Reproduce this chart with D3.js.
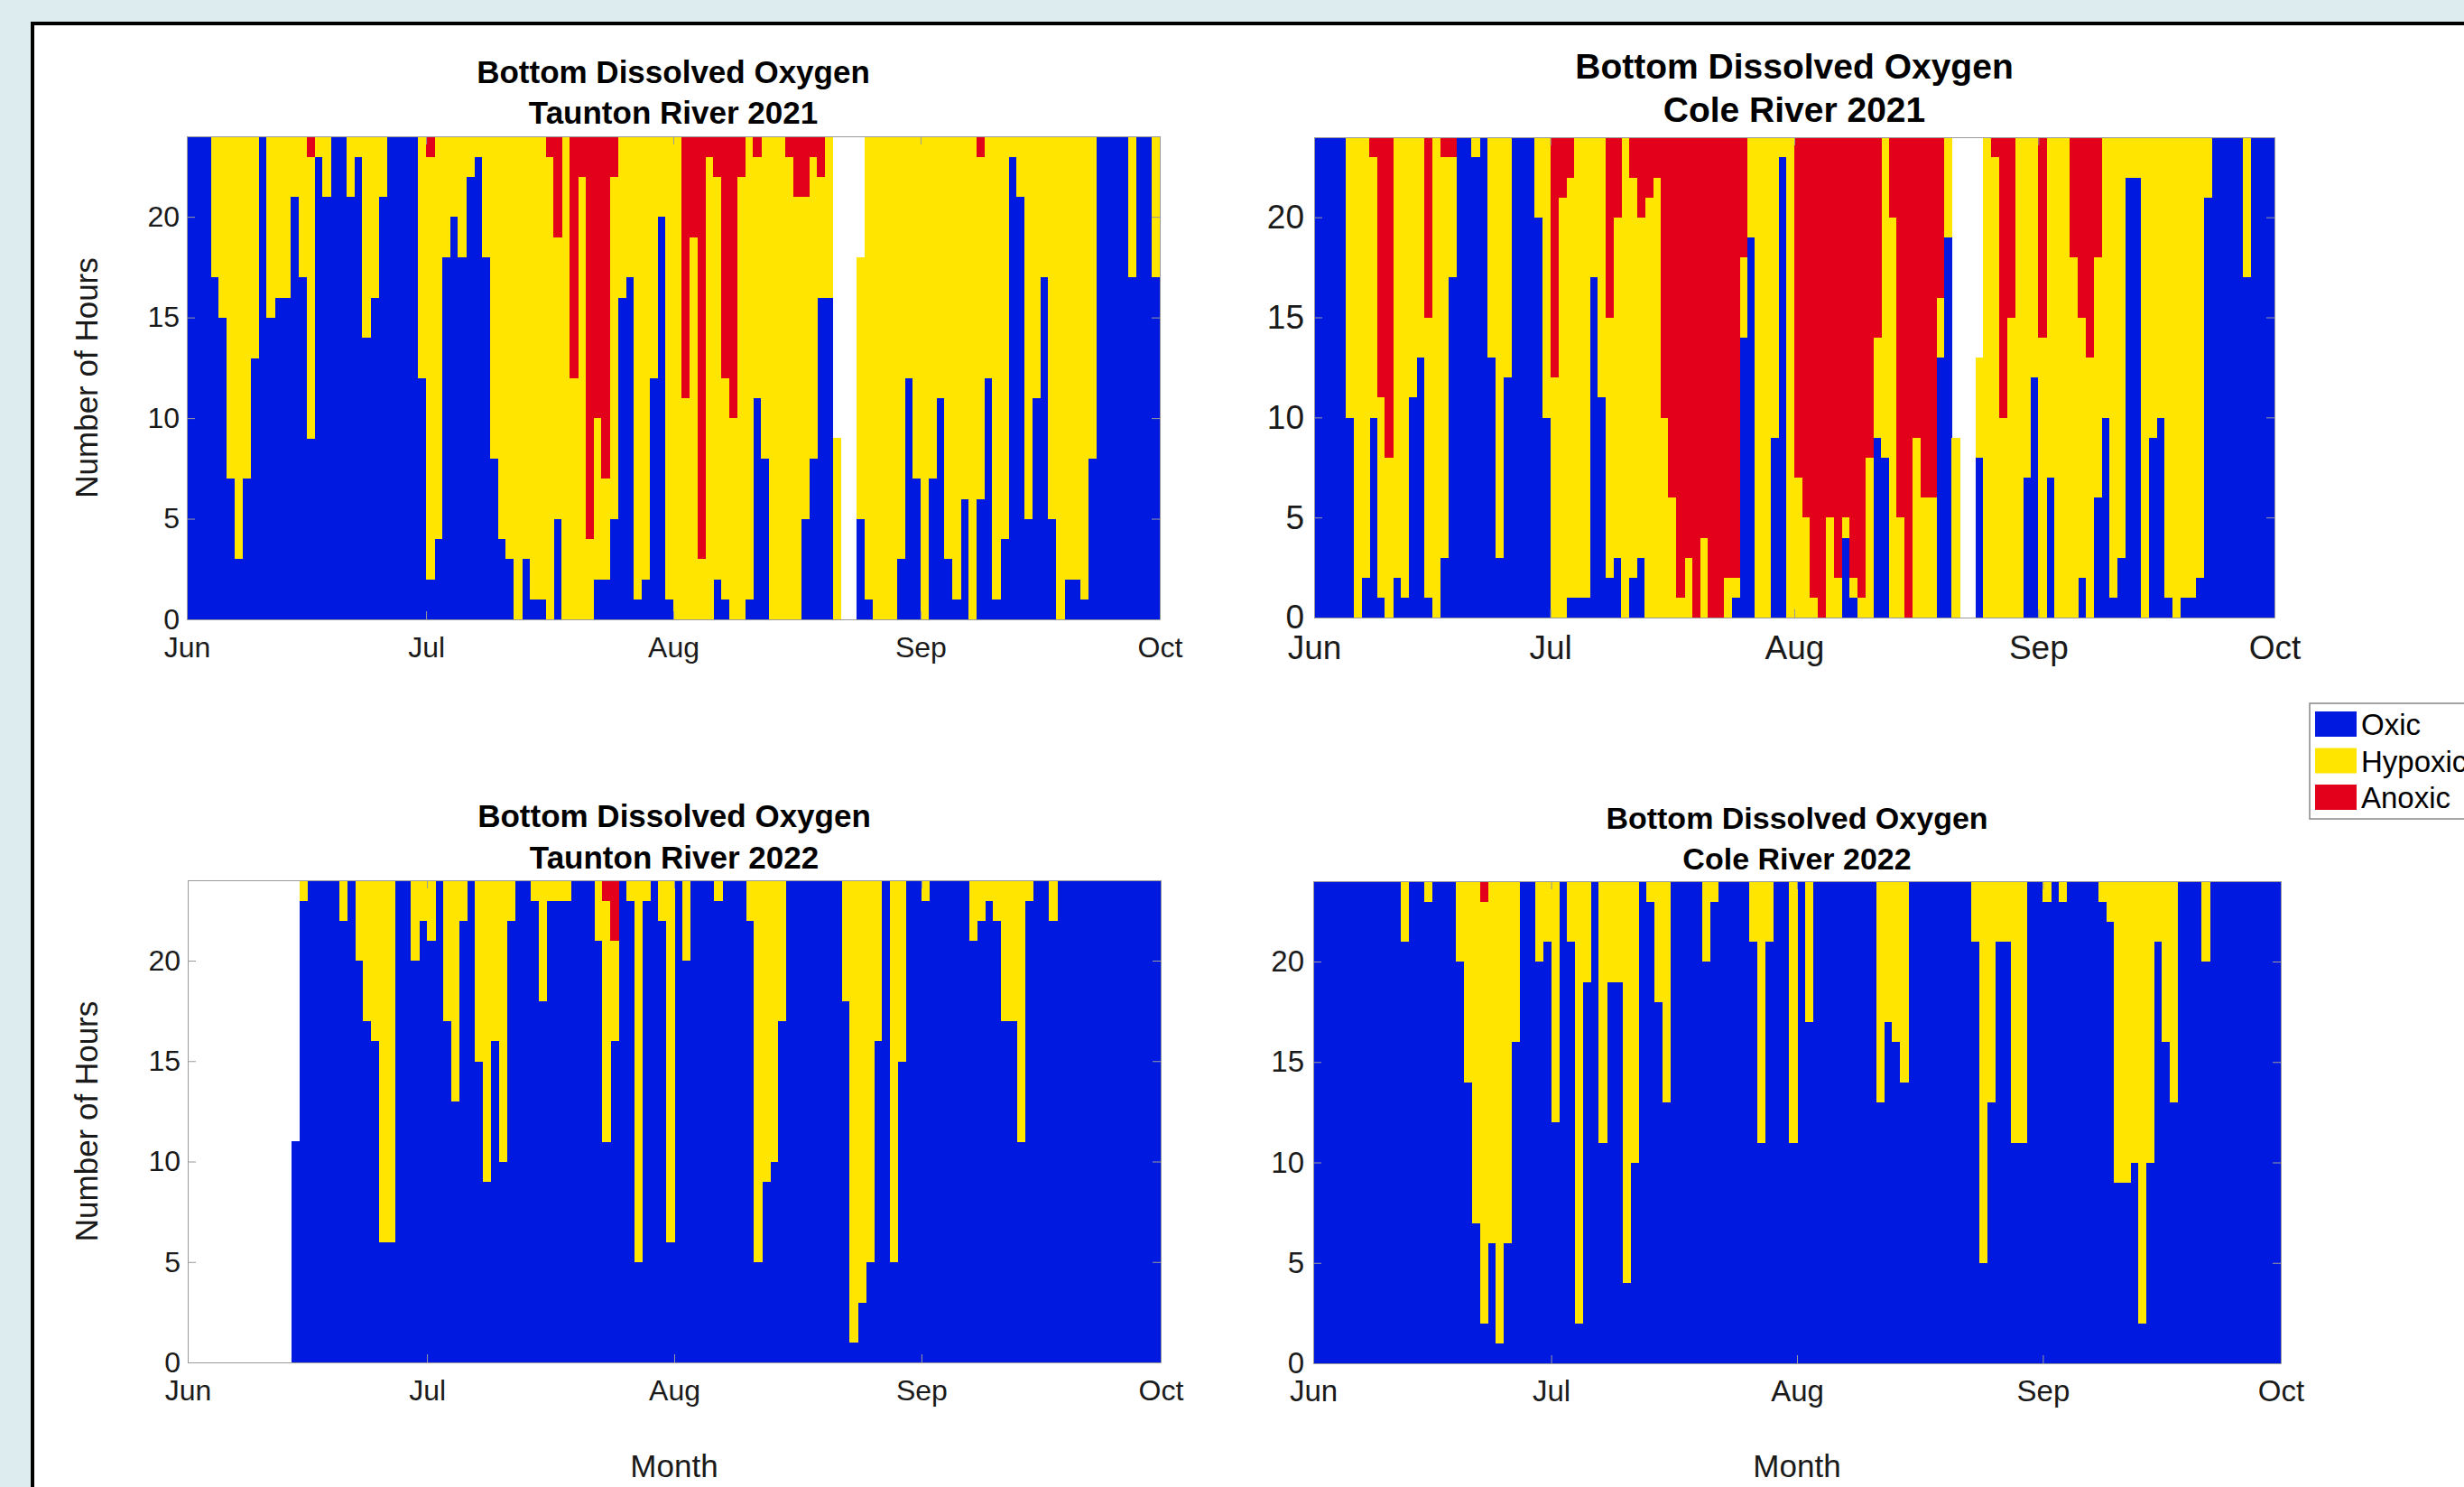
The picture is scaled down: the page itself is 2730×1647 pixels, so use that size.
<!DOCTYPE html>
<html lang="en">
<head>
<meta charset="utf-8">
<title>Bottom Dissolved Oxygen</title>
<script src="https://d3js.org/d3.v7.min.js"></script>
<style>
  body { margin: 0; background: #dcecef; overflow: hidden; }
  svg { display: block; font-family: "Liberation Sans", Arial, Helvetica, sans-serif; }
  .axis path, .axis line { stroke: #9a9a9a; }
  .axis text { fill: #1a1a1a; }
</style>
</head>
<body>
<svg id="chart" width="2730" height="1647"></svg>
<script>
const categories = ['Oxic', 'Hypoxic', 'Anoxic']
const colors = ['#0019e0', '#ffe500', '#e3001b']
const monthLabels = ['Jun', 'Jul', 'Aug', 'Sep', 'Oct']
const hourTicks = [0, 5, 10, 15, 20]

// hours per day, Jun 1 .. Sep 30 (122 days); days with a total under 24 had missing hours
const tauntonOxic2021 = [
  24,24,24,17,15,7,3,7,13,24, 15,16,16,21,17,9,23,21,24,24, 21,23,14,16,21,24,24,24,24,12,
  2,4,18,20,18,22,23,18,8,4, 3,0,3,1,1,0,5,0,0,0, 0,2,2,5,16,17,1,2,12,20,
  1,0,0,0,0,0,2,1,0,0, 1,11,8,0,0,0,0,5,8,16, 16,0,0,0,5,1,0,0,0,3,
  12,7,0,7,11,3,1,6,0,6, 12,1,4,23,21,5,11,17,5,0, 2,2,1,8,24,24,24,24,17,24,24,17]
const tauntonHypoxic2021 = [
  0,0,0,7,9,17,21,17,11,0, 9,8,8,3,7,14,1,3,0,0, 3,1,10,8,3,0,0,0,0,12,
  21,20,6,4,6,2,1,6,16,20, 21,24,21,23,23,23,14,24,12,22, 4,8,5,17,8,7,23,22,12,4,
  23,24,11,19,3,23,20,11,10,22, 23,12,16,24,24,23,21,16,15,6, 8,9,0,0,13,23,24,24,24,21,
  12,17,24,17,13,21,23,18,24,17, 12,23,20,1,3,19,13,7,19,24, 22,22,23,16,0,0,0,0,7,0,0,7]
const tauntonAnoxic2021 = [
  0,0,0,0,0,0,0,0,0,0, 0,0,0,0,0,1,0,0,0,0, 0,0,0,0,0,0,0,0,0,0,
  1,0,0,0,0,0,0,0,0,0, 0,0,0,0,0,1,5,0,12,2, 20,14,17,2,0,0,0,0,0,0,
  0,0,13,5,21,1,2,12,14,2, 0,1,0,0,0,1,3,3,1,2, 0,0,0,0,0,0,0,0,0,0,
  0,0,0,0,0,0,0,0,0,1, 0,0,0,0,0,0,0,0,0,0, 0,0,0,0,0,0,0,0,0,0,0,0]

const coleOxic2021 = [
  24,24,24,24,10,0,2,10,1,0, 2,1,11,13,1,0,3,17,24,24, 23,24,13,3,12,24,24,24,20,10,
  0,0,1,1,1,17,11,2,3,0, 2,3,0,0,0,0,0,0,0,0, 0,0,0,1,14,19,0,0,9,23,
  0,0,0,0,0,0,0,4,1,0, 0,9,8,0,0,0,0,0,0,13, 19,0,0,0,8,0,0,0,0,0,
  7,12,0,7,0,0,0,2,0,6, 10,1,3,22,22,0,9,10,1,0, 1,1,2,21,24,24,24,24,17,24,24,24]
const coleHypoxic2021 = [
  0,0,0,0,14,24,22,13,10,8, 22,23,13,11,14,24,20,6,0,0, 1,0,11,21,12,0,0,0,4,14,
  12,21,21,23,23,7,13,13,17,24, 20,17,21,22,10,6,1,3,0,4, 0,0,2,1,4,5,24,24,15,1,
  24,7,5,1,0,5,2,1,1,1, 8,5,16,20,5,0,9,6,6,3, 5,9,0,0,5,24,23,10,15,24,
  17,12,14,17,24,24,18,13,13,12, 14,23,21,2,2,24,15,14,23,24, 23,23,22,3,0,0,0,0,7,0,0,0]
const coleAnoxic2021 = [
  0,0,0,0,0,0,0,1,13,16, 0,0,0,0,9,0,1,1,0,0, 0,0,0,0,0,0,0,0,0,0,
  12,3,2,0,0,0,0,9,4,0, 2,4,3,2,14,18,23,21,24,20, 24,24,22,22,6,0,0,0,0,0,
  0,17,19,23,24,19,22,19,22,23, 16,10,0,4,19,24,15,18,18,8, 0,0,0,0,0,0,1,14,9,0,
  0,0,10,0,0,0,6,9,11,6, 0,0,0,0,0,0,0,0,0,0, 0,0,0,0,0,0,0,0,0,0,0,0]

const tauntonOxic2022 = [
  0,0,0,0,0,0,0,0,0,0, 0,0,0,11,23,24,24,24,24,22, 24,20,17,16,6,6,24,24,20,22,
  21,24,17,13,22,24,15,9,16,10, 22,24,24,23,18,23,23,23,24,24, 24,21,11,16,24,23,5,23,24,22,
  6,24,20,24,24,24,23,24,24,24, 22,5,9,10,17,24,24,24,24,24, 24,24,18,1,3,5,16,24,5,15,
  24,24,23,24,24,24,24,24,21,22, 23,22,17,17,11,23,24,24,22,24, 24,24,24,24,24,24,24,24,24,24,24,24]
const tauntonHypoxic2022 = [
  0,0,0,0,0,0,0,0,0,0, 0,0,0,0,1,0,0,0,0,2, 0,4,7,8,18,18,0,0,4,2,
  3,0,7,11,2,0,9,15,8,14, 2,0,0,1,6,1,1,1,0,0, 0,3,12,5,0,1,19,1,0,2,
  18,0,4,0,0,0,1,0,0,0, 2,19,15,14,7,0,0,0,0,0, 0,0,6,23,21,19,8,0,19,9,
  0,0,1,0,0,0,0,0,3,2, 1,2,7,7,13,1,0,0,2,0, 0,0,0,0,0,0,0,0,0,0,0,0]
const tauntonAnoxic2022 = [
  0,0,0,0,0,0,0,0,0,0, 0,0,0,0,0,0,0,0,0,0, 0,0,0,0,0,0,0,0,0,0,
  0,0,0,0,0,0,0,0,0,0, 0,0,0,0,0,0,0,0,0,0, 0,0,1,3,0,0,0,0,0,0,
  0,0,0,0,0,0,0,0,0,0, 0,0,0,0,0,0,0,0,0,0, 0,0,0,0,0,0,0,0,0,0,
  0,0,0,0,0,0,0,0,0,0, 0,0,0,0,0,0,0,0,0,0, 0,0,0,0,0,0,0,0,0,0,0,0]

const coleOxic2022 = [
  24,24,24,24,24,24,24,24,24,24, 24,21,24,24,23,24,24,24,20,14, 7,2,6,1,6,16,24,24,20,21,
  12,24,21,2,19,24,11,19,19,4, 10,24,23,18,13,24,24,24,24,20, 23,24,24,24,24,21,11,21,24,24,
  11,24,17,24,24,24,24,24,24,24, 24,13,17,16,14,24,24,24,24,24, 24,24,24,21,5,13,21,21,11,11,
  24,24,23,24,23,24,24,24,24,23, 22,9,9,10,2,10,21,16,13,24, 24,24,20,24,24,24,24,24,24,24,24,24]
const coleHypoxic2022 = [
  0,0,0,0,0,0,0,0,0,0, 0,3,0,0,1,0,0,0,4,10, 17,21,18,23,18,8,0,0,4,3,
  12,0,3,22,5,0,13,5,5,20, 14,0,1,6,11,0,0,0,0,4, 1,0,0,0,0,3,13,3,0,0,
  13,0,7,0,0,0,0,0,0,0, 0,11,7,8,10,0,0,0,0,0, 0,0,0,3,19,11,3,3,13,13,
  0,0,1,0,1,0,0,0,0,1, 2,15,15,14,22,14,3,8,11,0, 0,0,4,0,0,0,0,0,0,0,0,0]
const coleAnoxic2022 = [
  0,0,0,0,0,0,0,0,0,0, 0,0,0,0,0,0,0,0,0,0, 0,1,0,0,0,0,0,0,0,0,
  0,0,0,0,0,0,0,0,0,0, 0,0,0,0,0,0,0,0,0,0, 0,0,0,0,0,0,0,0,0,0,
  0,0,0,0,0,0,0,0,0,0, 0,0,0,0,0,0,0,0,0,0, 0,0,0,0,0,0,0,0,0,0,
  0,0,0,0,0,0,0,0,0,0, 0,0,0,0,0,0,0,0,0,0, 0,0,0,0,0,0,0,0,0,0,0,0]

// layout of the four axes (the source is a collage, so each panel has its own sizes)
const panels = [
  { title: 'Taunton River 2021', year: 2021, series: [tauntonOxic2021, tauntonHypoxic2021, tauntonAnoxic2021],
    box: [207, 151, 1285, 686], titleSize: 35, titleY: [92, 137], tickSize: 32, xPad: 19, yPad: 8, ylabel: true },
  { title: 'Cole River 2021', year: 2021, series: [coleOxic2021, coleHypoxic2021, coleAnoxic2021],
    box: [1456, 152, 2520, 684], titleSize: 39, titleY: [87, 135], tickSize: 37, xPad: 20, yPad: 11 },
  { title: 'Taunton River 2022', year: 2022, series: [tauntonOxic2022, tauntonHypoxic2022, tauntonAnoxic2022],
    box: [208, 975, 1286, 1509], titleSize: 35, titleY: [916, 962], tickSize: 32, xPad: 19, yPad: 8, ylabel: true, xlabel: true },
  { title: 'Cole River 2022', year: 2022, series: [coleOxic2022, coleHypoxic2022, coleAnoxic2022],
    box: [1455, 976, 2527, 1510], titleSize: 34, titleY: [918, 963], tickSize: 33, xPad: 19, yPad: 10, xlabel: true }
]

const svg = d3.select('#chart')

// white sheet with its black frame (top and left edges show)
svg.append('rect')
  .attr('x', 36).attr('y', 26)
  .attr('width', 2800).attr('height', 1700)
  .attr('fill', '#fff')
  .attr('stroke', '#000')
  .attr('stroke-width', 4)

panels.forEach(p => {
  const [x0, y0, x1, y1] = p.box
  const start = new Date(p.year, 5, 1)
  const end = new Date(p.year, 9, 1)
  const x = d3.scaleTime().domain([start, end]).range([x0, x1])
  const y = d3.scaleLinear().domain([0, 24]).range([y1, y0])

  const dates = d3.timeDay.range(start, end)
  const rows = dates.map((d, i) => ({
    date: d,
    Oxic: p.series[0][i],
    Hypoxic: p.series[1][i],
    Anoxic: p.series[2][i]
  }))
  const stacked = d3.stack().keys(categories)(rows)

  const g = svg.append('g')

  g.selectAll('g.layer')
    .data(stacked)
    .join('g')
    .attr('class', 'layer')
    .attr('fill', (d, i) => colors[i])
    .selectAll('rect')
    .data(d => d.filter(v => v[1] > v[0]))
    .join('rect')
    .attr('x', d => x(d.data.date))
    .attr('width', d => x(d3.timeDay.offset(d.data.date, 1)) - x(d.data.date) + 0.6)
    .attr('y', d => y(d[1]))
    .attr('height', d => y(d[0]) - y(d[1]) + 0.3)
    .attr('shape-rendering', 'crispEdges')

  const months = d3.timeMonth.range(start, d3.timeDay.offset(end, 1))

  const xAxis = g.append('g')
    .attr('class', 'axis')
    .attr('transform', `translate(0,${y1})`)
    .style('font-size', p.tickSize + 'px')
    .call(d3.axisBottom(x).tickValues(months).tickFormat((d, i) => monthLabels[i])
      .tickSizeInner(-9).tickSizeOuter(0).tickPadding(p.xPad))
  xAxis.selectAll('text').attr('y', p.xPad)

  g.append('g')
    .attr('class', 'axis')
    .attr('transform', `translate(0,${y0})`)
    .call(d3.axisTop(x).tickValues(months).tickFormat('').tickSizeInner(-9).tickSizeOuter(0))

  g.append('g')
    .attr('class', 'axis')
    .attr('transform', `translate(${x0},0)`)
    .style('font-size', p.tickSize + 'px')
    .call(d3.axisLeft(y).tickValues(hourTicks).tickSizeInner(-9).tickSizeOuter(0).tickPadding(p.yPad))
    .selectAll('text').attr('x', -p.yPad)

  g.append('g')
    .attr('class', 'axis')
    .attr('transform', `translate(${x1},0)`)
    .call(d3.axisRight(y).tickValues(hourTicks).tickFormat('').tickSizeInner(-9).tickSizeOuter(0))

  g.selectAll('.axis text').attr('font-family', null)
  g.selectAll('.axis').attr('font-family', null)

  const cx = (x0 + x1) / 2
  g.append('text')
    .attr('x', cx).attr('y', p.titleY[0])
    .attr('text-anchor', 'middle')
    .attr('font-weight', 'bold')
    .attr('font-size', p.titleSize)
    .text('Bottom Dissolved Oxygen')
  g.append('text')
    .attr('x', cx).attr('y', p.titleY[1])
    .attr('text-anchor', 'middle')
    .attr('font-weight', 'bold')
    .attr('font-size', p.titleSize)
    .text(p.title)

  if (p.ylabel) {
    g.append('text')
      .attr('transform', `translate(108,${(y0 + y1) / 2}) rotate(-90)`)
      .attr('text-anchor', 'middle')
      .attr('font-size', 35)
      .attr('fill', '#1a1a1a')
      .text('Number of Hours')
  }
  if (p.xlabel) {
    g.append('text')
      .attr('x', cx).attr('y', 1636)
      .attr('text-anchor', 'middle')
      .attr('font-size', 35)
      .attr('fill', '#1a1a1a')
      .text('Month')
  }
})

// legend
const legend = svg.append('g').attr('transform', 'translate(2559,779)')
legend.append('rect')
  .attr('width', 240).attr('height', 128)
  .attr('fill', '#fff')
  .attr('stroke', '#888')
  .attr('stroke-width', 1.5)
const item = legend.selectAll('g.item')
  .data(categories)
  .join('g')
  .attr('class', 'item')
  .attr('transform', (d, i) => `translate(6,${9 + i * 40.5})`)
item.append('rect')
  .attr('width', 46).attr('height', 28)
  .attr('fill', (d, i) => colors[i])
item.append('text')
  .attr('x', 51).attr('y', 26)
  .attr('font-size', 33)
  .attr('fill', '#000')
  .text(d => d)
</script>
</body>
</html>
